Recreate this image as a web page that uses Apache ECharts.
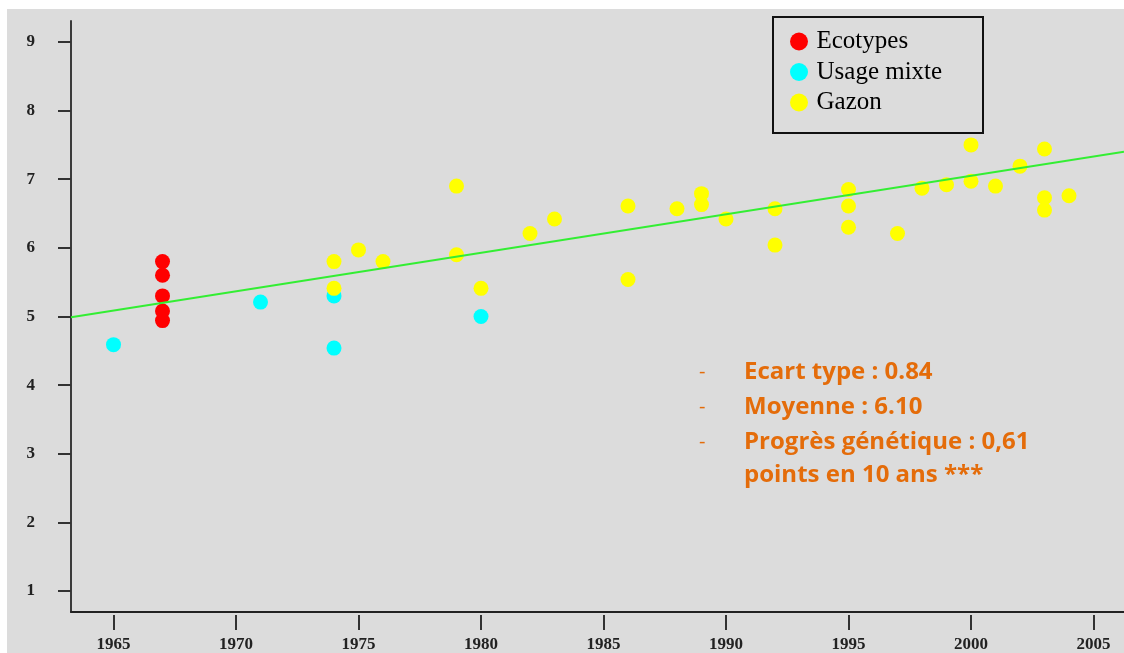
<!DOCTYPE html>
<html>
<head>
<meta charset="utf-8">
<script src="https://cdn.jsdelivr.net/npm/echarts@6/dist/echarts.min.js"></script>
<style>
html,body{margin:0;padding:0;background:#fff;}
#chart{width:1124px;height:653px;}
</style>
</head>
<body>
<div id="chart"></div>
<script>
// ---- data ----
const ecoYears  = [1967, 1967, 1967, 1967, 1967];
const ecoScores = [5.80, 5.60, 5.30, 5.08, 4.94];

const mixYears  = [1965, 1971, 1974, 1974, 1980];
const mixScores = [4.59, 5.21, 5.30, 4.54, 5.00];

const gazYears  = [1974, 1974, 1975, 1976, 1979, 1979, 1980, 1982, 1983, 1986, 1986, 1988, 1989, 1989, 1990, 1992, 1992, 1995, 1995, 1995, 1997, 1998, 1999, 2000, 2000, 2001, 2002, 2003, 2003, 2003, 2004];
const gazScores = [5.80, 5.41, 5.97, 5.80, 6.90, 5.90, 5.41, 6.21, 6.42, 6.61, 5.54, 6.57, 6.79, 6.63, 6.42, 6.57, 6.04, 6.85, 6.61, 6.30, 6.21, 6.87, 6.92, 7.50, 6.97, 6.90, 7.19, 7.44, 6.73, 6.55, 6.76];

const trendYears  = [1963.265, 2006.245];
const trendScores = [4.99, 7.40];

const xTicks = [1965, 1970, 1975, 1980, 1985, 1990, 1995, 2000, 2005];
const yTicks = [1, 2, 3, 4, 5, 6, 7, 8, 9];

const seriesNames = ['Ecotypes', 'Usage mixte', 'Gazon'];
const statLines = ['Ecart type : 0.84', 'Moyenne : 6.10', 'Progrès génétique : 0,61', 'points en 10 ans ***'];

// ---- build ----
const zip = (a, b) => a.map((v, i) => [v, b[i]]);
const X_MIN = 1963.265, X_MAX = 2006.245, Y_MIN = 0.695, Y_MAX = 9.305;
const tickFont = {fontFamily: 'Liberation Serif', fontWeight: 'bold', fontSize: 17, color: '#222'};
const orange = '#e46c0a';

const statY = [370, 405, 440, 473];
const statGraphics = [];
statLines.forEach((t, i) => {
  statGraphics.push({
    type: 'text', left: 744, top: statY[i] - 10, silent: true,
    style: {text: t, fill: orange, font: 'bold 24px "Open Sans"'}
  });
  if (i < 3) {
    statGraphics.push({
      type: 'text', left: 699, top: statY[i] - 8, silent: true,
      style: {text: '-', fill: orange, font: '20px "Open Sans"'}
    });
  }
});

const chart = echarts.init(document.getElementById('chart'), null, {renderer: 'canvas'});
chart.setOption({
  animation: false,
  backgroundColor: '#dcdcdc',
  grid: {left: 71, right: 0, top: 21, bottom: 39, containLabel: false},
  xAxis: [{
    type: 'value', min: X_MIN, max: X_MAX,
    axisLine: {show: true, lineStyle: {color: '#222', width: 2}},
    axisTick: {show: false}, axisLabel: {show: false}, splitLine: {show: false}
  }, {
    type: 'value', min: X_MIN, max: X_MAX, position: 'bottom', offset: 3,
    axisLine: {show: false},
    axisTick: {show: true, customValues: xTicks, length: 15, lineStyle: {color: '#333', width: 2}},
    axisLabel: Object.assign({show: true, customValues: xTicks, margin: 21, formatter: v => String(Math.round(v))}, tickFont),
    splitLine: {show: false}
  }],
  yAxis: {
    type: 'value', min: Y_MIN, max: Y_MAX,
    axisLine: {show: true, lineStyle: {color: '#3a3a3a', width: 2}},
    axisTick: {show: true, customValues: yTicks, length: 13, lineStyle: {color: '#333', width: 2}},
    axisLabel: Object.assign({show: true, customValues: yTicks, margin: 36, formatter: v => String(Math.round(v))}, tickFont),
    splitLine: {show: false}
  },
  legend: {
    data: seriesNames, orient: 'vertical', left: 790, top: 29,
    itemWidth: 25, itemHeight: 18, itemGap: 5.5, icon: 'circle',
    textStyle: {fontFamily: 'Liberation Serif', fontSize: 25, color: '#000', lineHeight: 25},
    padding: 0, selectedMode: false
  },
  graphic: [
    {type: 'rect', silent: true, shape: {x: 0, y: 0, width: 1124, height: 9}, style: {fill: '#fff'}},
    {type: 'rect', silent: true, shape: {x: 0, y: 0, width: 7, height: 653}, style: {fill: '#fff'}},
    {type: 'rect', silent: true, shape: {x: 773, y: 17, width: 210, height: 116}, style: {fill: 'none', stroke: '#111', lineWidth: 2}}
  ].concat(statGraphics),
  series: [
    {name: seriesNames[0], type: 'scatter', symbolSize: 15, itemStyle: {color: '#ff0000', opacity: 1}, data: zip(ecoYears, ecoScores), z: 3},
    {name: seriesNames[1], type: 'scatter', symbolSize: 15, itemStyle: {color: '#00ffff', opacity: 1}, data: zip(mixYears, mixScores), z: 3},
    {name: seriesNames[2], type: 'scatter', symbolSize: 15, itemStyle: {color: '#ffff00', opacity: 1}, data: zip(gazYears, gazScores), z: 3},
    {name: 'trend', type: 'line', showSymbol: false, symbol: 'none', data: zip(trendYears, trendScores),
      lineStyle: {color: '#33ee33', width: 2}, z: 5, silent: true}
  ]
});
</script>
</body>
</html>
